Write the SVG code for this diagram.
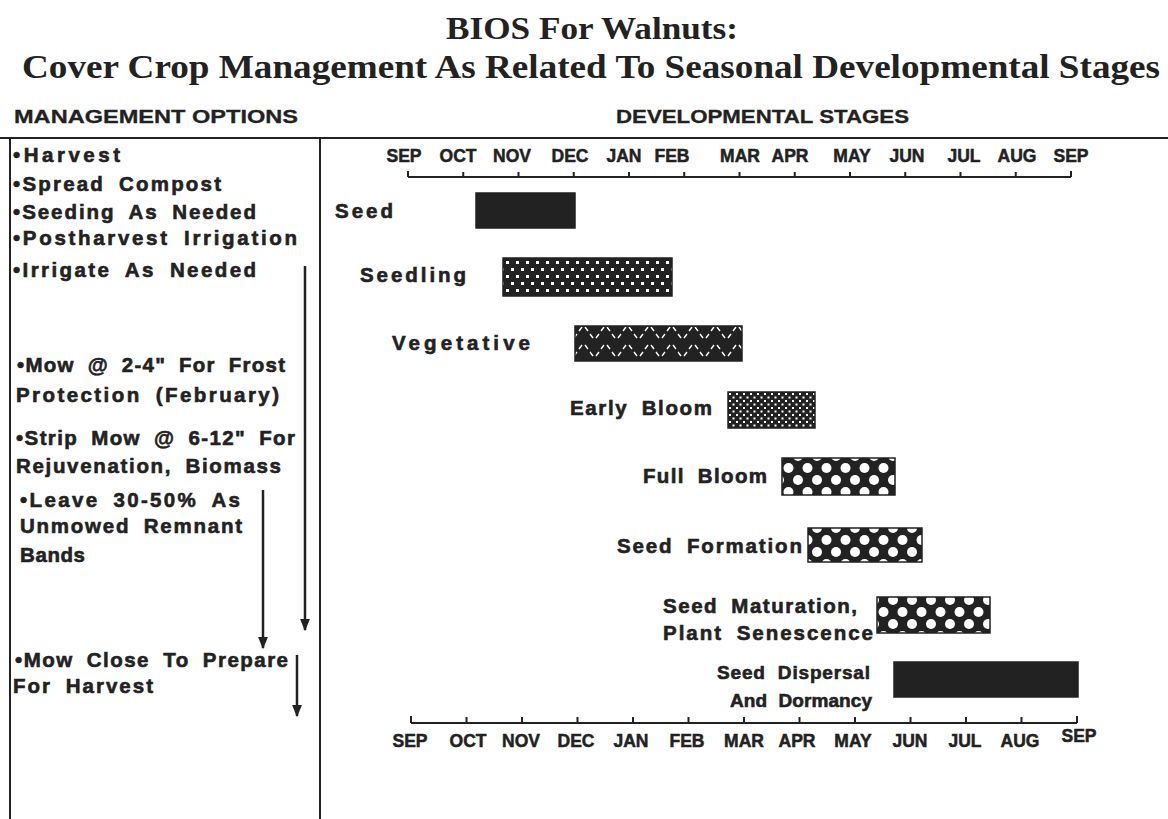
<svg xmlns="http://www.w3.org/2000/svg" width="1168" height="819" viewBox="0 0 1168 819">
<style>
.t{font-family:"Liberation Serif","Times New Roman",serif;font-weight:bold;fill:#222}
.h{font-family:"Liberation Sans",Arial,sans-serif;font-weight:bold;fill:#222;font-size:19px;stroke:#222;stroke-width:0.3}
.m{font-family:"Liberation Sans",Arial,sans-serif;font-weight:bold;fill:#222;font-size:20.5px;word-spacing:6px;stroke:#222;stroke-width:0.6}
.mo{font-family:"Liberation Sans",Arial,sans-serif;font-weight:bold;fill:#222;font-size:17.5px;text-anchor:middle;stroke:#222;stroke-width:0.5}
.ln{stroke:#222;stroke-width:2.5;fill:none}
.ax{stroke:#222;stroke-width:2;fill:none}
.bar{stroke:#222;stroke-width:1.5}
</style>
<defs>
<pattern id="pDots" patternUnits="userSpaceOnUse" width="10" height="14">
<rect width="10" height="14" fill="#222"/>
<rect x="1" y="2" width="3" height="3" fill="#fff"/>
<rect x="6" y="9" width="3" height="3" fill="#fff"/>
</pattern>
<pattern id="pFine" patternUnits="userSpaceOnUse" width="7" height="7">
<rect width="7" height="7" fill="#222"/>
<rect x="1" y="1" width="2" height="2" fill="#fff"/>
<rect x="4.5" y="4.5" width="2" height="2" fill="#fff"/>
</pattern>
<pattern id="pZig" patternUnits="userSpaceOnUse" width="22" height="36">
<rect width="22" height="36" fill="#222"/>
<path d="M2,14 L5,10 M7,7 L10,3 M2,32 L5,28 M7,25 L10,21 M13,3 L16,7 M18,10 L21,14 M13,21 L16,25 M18,28 L21,32" stroke="#fff" stroke-width="1.4"/>
</pattern>
<pattern id="pCirc" patternUnits="userSpaceOnUse" width="19" height="24">
<rect width="19" height="24" fill="#222"/>
<circle cx="0" cy="0" r="5" fill="#fff"/>
<circle cx="19" cy="0" r="5" fill="#fff"/>
<circle cx="0" cy="24" r="5" fill="#fff"/>
<circle cx="19" cy="24" r="5" fill="#fff"/>
<circle cx="9.5" cy="12" r="5" fill="#fff"/>
</pattern>
<marker id="arr" viewBox="0 0 10 10" refX="9" refY="5" markerWidth="5" markerHeight="5" orient="auto" markerUnits="strokeWidth">
<path d="M0,1 L10,5 L0,9 Z" fill="#222"/>
</marker>
</defs>

<g id="title">
<text class="t" x="592" y="39" font-size="32" text-anchor="middle" textLength="292" lengthAdjust="spacingAndGlyphs">BIOS For Walnuts:</text>
<text class="t" x="591" y="78" font-size="34" text-anchor="middle" textLength="1138" lengthAdjust="spacingAndGlyphs">Cover Crop Management As Related To Seasonal Developmental Stages</text>
</g>

<g id="headers">
<text class="h" x="14" y="123" textLength="284" lengthAdjust="spacingAndGlyphs">MANAGEMENT OPTIONS</text>
<text class="h" x="616" y="123" textLength="293" lengthAdjust="spacingAndGlyphs">DEVELOPMENTAL STAGES</text>
</g>

<g id="frame">
<line class="ax" x1="0" y1="138" x2="1168" y2="138"/>
<line class="ax" x1="10" y1="138" x2="10" y2="819"/>
<line class="ax" x1="320" y1="138" x2="320" y2="819"/>
</g>

<g id="management-options">
<text class="m" x="13" y="162" textLength="107">•Harvest</text>
<text class="m" x="13" y="191" textLength="208">•Spread Compost</text>
<text class="m" x="13" y="219" textLength="243">•Seeding As Needed</text>
<text class="m" x="13" y="245" textLength="284">•Postharvest Irrigation</text>
<text class="m" x="13" y="277" textLength="243">•Irrigate As Needed</text>
<text class="m" x="17" y="372" textLength="268">•Mow @ 2-4" For Frost</text>
<text class="m" x="16" y="402" textLength="263">Protection (February)</text>
<text class="m" x="16" y="445" textLength="279">•Strip Mow @ 6-12" For</text>
<text class="m" x="16" y="473" textLength="265">Rejuvenation, Biomass</text>
<text class="m" x="20" y="507" textLength="220">•Leave 30-50% As</text>
<text class="m" x="20" y="533" textLength="222">Unmowed Remnant</text>
<text class="m" x="20" y="562" textLength="65">Bands</text>
<text class="m" x="15" y="667" textLength="273">•Mow Close To Prepare</text>
<text class="m" x="13" y="693" textLength="140">For Harvest</text>
</g>

<g id="connectors">
<line class="ln" x1="305" y1="266" x2="305" y2="630" marker-end="url(#arr)"/>
<line class="ln" x1="263" y1="490" x2="263" y2="648" marker-end="url(#arr)"/>
<line class="ln" x1="297" y1="655" x2="297" y2="716" marker-end="url(#arr)"/>
</g>

<g id="top-axis">
<line class="ax" x1="408" y1="177" x2="1071" y2="177"/>
<path class="ax" d="M408,171V177 M463.25,172V177 M518.5,172V177 M573.75,172V177 M629,172V177 M684.25,172V177 M739.5,172V177 M794.75,172V177 M850,172V177 M905.25,172V177 M960.5,172V177 M1015.75,172V177 M1071,171V177"/>
<text class="mo" x="404" y="162">SEP</text>
<text class="mo" x="458" y="162">OCT</text>
<text class="mo" x="512" y="162">NOV</text>
<text class="mo" x="570" y="162">DEC</text>
<text class="mo" x="624" y="162">JAN</text>
<text class="mo" x="672" y="162">FEB</text>
<text class="mo" x="740" y="162">MAR</text>
<text class="mo" x="790" y="162">APR</text>
<text class="mo" x="852" y="162">MAY</text>
<text class="mo" x="907" y="162">JUN</text>
<text class="mo" x="964" y="162">JUL</text>
<text class="mo" x="1017" y="162">AUG</text>
<text class="mo" x="1071" y="162">SEP</text>
</g>

<g id="bottom-axis">
<line class="ax" x1="411" y1="723" x2="1077" y2="723"/>
<path class="ax" d="M411,716V723 M466.5,717V723 M522,717V723 M577.5,717V723 M633,717V723 M688.5,717V723 M744,717V723 M799.5,717V723 M855,717V723 M910.5,717V723 M966,717V723 M1021.5,717V723 M1077,716V723"/>
<text class="mo" x="410" y="747">SEP</text>
<text class="mo" x="468" y="747">OCT</text>
<text class="mo" x="521" y="747">NOV</text>
<text class="mo" x="576" y="747">DEC</text>
<text class="mo" x="631" y="747">JAN</text>
<text class="mo" x="687" y="747">FEB</text>
<text class="mo" x="744" y="747">MAR</text>
<text class="mo" x="797" y="747">APR</text>
<text class="mo" x="853" y="747">MAY</text>
<text class="mo" x="910" y="747">JUN</text>
<text class="mo" x="965" y="747">JUL</text>
<text class="mo" x="1020" y="747">AUG</text>
<text class="mo" x="1079" y="742">SEP</text>
</g>

<g id="stage-seed">
<text class="m" x="335" y="218" textLength="58">Seed</text>
<rect class="bar" x="476" y="193" width="99" height="35" fill="#222"/>
</g>
<g id="stage-seedling">
<text class="m" x="360" y="282" textLength="106">Seedling</text>
<rect class="bar" x="503" y="258" width="169" height="38" fill="url(#pDots)"/>
</g>
<g id="stage-vegetative">
<text class="m" x="392" y="350" textLength="138">Vegetative</text>
<rect class="bar" x="575" y="326" width="167" height="35" fill="url(#pZig)"/>
</g>
<g id="stage-early-bloom">
<text class="m" x="570" y="415" textLength="142">Early Bloom</text>
<rect class="bar" x="728" y="392" width="87" height="36" fill="url(#pFine)"/>
</g>
<g id="stage-full-bloom">
<text class="m" x="643" y="483" textLength="124">Full Bloom</text>
<rect class="bar" x="782" y="458" width="113" height="37" fill="url(#pCirc)"/>
</g>
<g id="stage-seed-formation">
<text class="m" x="617" y="553" textLength="185">Seed Formation</text>
<rect class="bar" x="808" y="528" width="114" height="34" fill="url(#pCirc)"/>
</g>
<g id="stage-seed-maturation">
<text class="m" x="663" y="613" textLength="194">Seed Maturation,</text>
<text class="m" x="663" y="640" textLength="210">Plant Senescence</text>
<rect class="bar" x="877" y="597" width="113" height="36" fill="url(#pCirc)"/>
</g>
<g id="stage-seed-dispersal">
<text class="m" x="717" y="679" textLength="153" style="font-size:19px;word-spacing:6px">Seed Dispersal</text>
<text class="m" x="730" y="707" textLength="142" style="font-size:19px;word-spacing:6px">And Dormancy</text>
<rect class="bar" x="894" y="662" width="184" height="35" fill="#222"/>
</g>
</svg>
